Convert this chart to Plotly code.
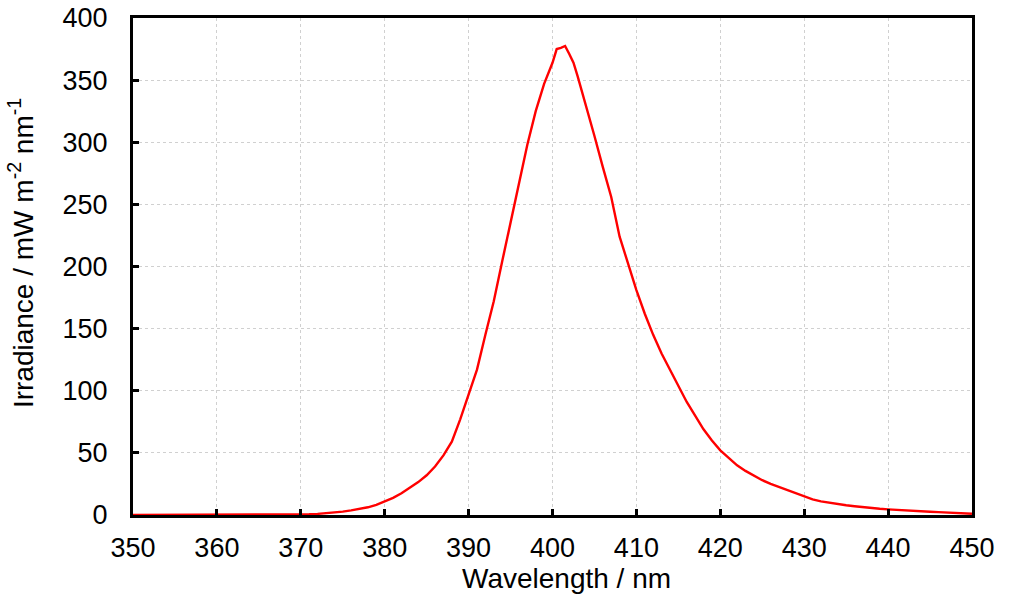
import plotly.graph_objects as go

wavelength = [350, 352, 354, 356, 358, 360, 362, 364, 366, 368, 370, 371, 372, 373, 374, 375, 376, 377, 378, 379,
              380, 381, 382, 383, 384, 385, 386, 387, 388, 389, 390, 391, 392, 393, 394, 395, 396, 397, 398, 399,
              400, 400.5, 401, 401.5, 402, 402.5, 403, 404, 405, 406, 407, 408, 409, 410, 411, 412, 413, 414, 415,
              416, 417, 418, 419, 420, 421, 422, 423, 424, 425, 426, 427, 428, 429, 430, 431, 432, 433, 434, 435,
              436, 437, 438, 439, 440, 441, 442, 443, 444, 445, 446, 447, 448, 449, 450]
irradiance = [0.1, 0.1, 0.1, 0.1, 0.1, 0.1, 0.1, 0.1, 0.2, 0.3, 0.4, 0.6, 0.9, 1.3, 1.9, 2.7, 3.7, 4.8, 6.2, 8.2,
              10.8, 13.8, 17.5, 22, 26.5, 32, 39, 48, 59, 77, 97, 117, 145, 172, 204, 236, 266, 298, 325, 347,
              364, 375, 376, 377.5, 371, 364, 353, 330, 305, 280, 256, 224, 203, 181, 162, 145, 130, 117, 104,
              91, 80, 69, 60, 52, 46, 40, 35.5, 31.5, 28, 25, 22.5, 19.5, 17, 14.5, 12.5, 11, 9.8, 8.8, 7.8,
              7, 6.2, 5.5, 5, 4.5, 4, 3.6, 3.2, 2.9, 2.6, 2.3, 2.0, 1.7, 1.4, 1.0]

x_ticks = [350, 360, 370, 380, 390, 400, 410, 420, 430, 440, 450]
y_ticks = [0, 50, 100, 150, 200, 250, 300, 350, 400]
x_title = "Wavelength / nm"
y_title = "Irradiance / mW m<sup>-2</sup> nm<sup>-1</sup>"

fig = go.Figure()
fig.add_trace(go.Scatter(x=wavelength, y=irradiance, mode="lines",
                         line=dict(color="#ff0000", width=2.4), showlegend=False))

tick_font = dict(family="Liberation Sans, Arial, sans-serif", size=27, color="black")
title_font = dict(family="Liberation Sans, Arial, sans-serif", size=28, color="black")
axis_common = dict(showline=True, linecolor="black", linewidth=3, mirror=True,
                   ticks="inside", ticklen=6, tickwidth=3, tickcolor="black",
                   showgrid=True, gridcolor="#d0d0d0", gridwidth=1, griddash="dot",
                   zeroline=False, tickfont=tick_font, automargin=False)

fig.update_layout(
    width=1024, height=602,
    margin=dict(l=133, r=52, t=18, b=87),
    paper_bgcolor="white", plot_bgcolor="white",
    font=tick_font,
    xaxis=dict(range=[350, 450], tickvals=x_ticks, ticktext=[str(v) for v in x_ticks],
               ticklabelstandoff=7, **axis_common),
    yaxis=dict(range=[0, 400], tickvals=y_ticks, ticktext=[str(v) for v in y_ticks],
               ticklabelstandoff=17, **axis_common),
    annotations=[
        dict(text=x_title, xref="paper", yref="paper", x=0.517, y=-0.127,
             xanchor="center", yanchor="middle", showarrow=False, font=title_font),
        dict(text=y_title, xref="paper", yref="paper", x=-0.1335, y=0.527,
             xanchor="center", yanchor="middle", textangle=-90, showarrow=False, font=title_font),
    ],
)

fig.write_html("out.html")
